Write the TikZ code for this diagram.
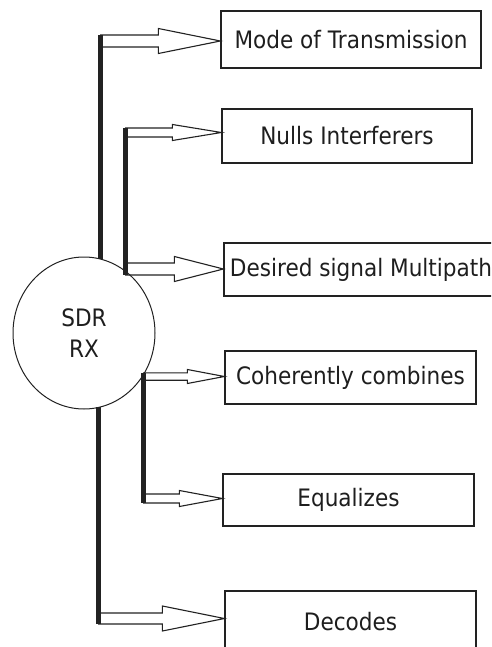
\documentclass[tikz,border=0pt]{standalone}
\usepackage{fontspec}
\setmainfont{DejaVu Sans}[FakeStretch=0.9]
\usetikzlibrary{calc,shapes.geometric}
\definecolor{ink}{HTML}{222222}
\definecolor{txt}{HTML}{1E1E1E}
\tikzset{
  box/.style={draw=ink, line width=1.2pt, rectangle, inner sep=0pt,
    text=txt, font=\fontsize{24}{28}\selectfont},
  trunk/.style={draw=ink, line width=5pt},
  thinline/.style={draw=ink, line width=1.1pt, line join=miter},
}
% #1 start coordinate (trunk x, arrow centre y), #2 target node,
% #3 shaft half width, #4 head half width, #5 head length
\newcommand\hollowarrow[5]{%
  \draw[thinline] ($(#1)+(0,#3)$) -- ($(#2.west |- #1)+(-#5,#3)$)
    -- ($(#2.west |- #1)+(-#5,#4)$) -- (#2.west |- #1)
    -- ($(#2.west |- #1)+(-#5,-#4)$) -- ($(#2.west |- #1)+(-#5,-#3)$)
    -- ($(#1)+(0,-#3)$);}
\begin{document}
\begin{tikzpicture}[x=1pt,y=1pt]
\useasboundingbox (0,0) rectangle (491,-647);
\clip (0,0) rectangle (491,-647);
\fill[white] (0,0) rectangle (491,-647);

\node[draw=ink, line width=1pt, ellipse, minimum width=142pt, minimum height=152pt,
  inner sep=0pt, outer sep=0pt, text=txt, align=center, font=\fontsize{24}{31.5}\selectfont]
  (sdr) at (84,-333) {SDR\\RX};

\node[box, minimum width=260pt, minimum height=57pt] (m) at (351,-39.5) {Mode of Transmission};
\node[box, minimum width=250pt, minimum height=54pt] (n) at (347,-136) {Nulls Interferers};
\node[box, minimum width=274pt, minimum height=53pt] (d) at (361,-269.5) {Desired signal Multipath};
\node[box, minimum width=251pt, minimum height=53pt] (c) at (350.5,-377.5) {Coherently combines};
\node[box, minimum width=251pt, minimum height=52pt] (e) at (348.5,-500) {Equalizes};
\node[box, minimum width=251pt, minimum height=61pt] (k) at (350.5,-621.5) {Decodes};

\coordinate (a1) at (100,-41);
\coordinate (a2) at (125,-132.5);
\coordinate (a3) at (125,-269);
\coordinate (a4) at (143,-376.5);
\coordinate (a5) at (143,-498.5);
\coordinate (a6) at (98,-618.5);

\draw[trunk] ($(a1)+(0,6)$) -- ($(a1 |- sdr.north)+(0,-2)$);
\draw[trunk] ($(a2)+(0,4.5)$) -- ($(a3)+(0,-6)$);
\draw[trunk] ($(a4)+(0,3.5)$) -- ($(a5)+(0,-4.5)$);
\draw[trunk] ($(a6 |- sdr.south)+(0,2)$) -- ($(a6)+(0,-5.5)$);

\hollowarrow{a1}{m}{6}{12.5}{62}
\hollowarrow{a2}{n}{4.5}{8}{49}
\hollowarrow{a3}{d}{6}{12.5}{49}
\hollowarrow{a4}{c}{3.7}{7}{37}
\hollowarrow{a5}{e}{4.5}{8}{43}
\hollowarrow{a6}{k}{5.5}{12.5}{62}
\end{tikzpicture}
\end{document}
